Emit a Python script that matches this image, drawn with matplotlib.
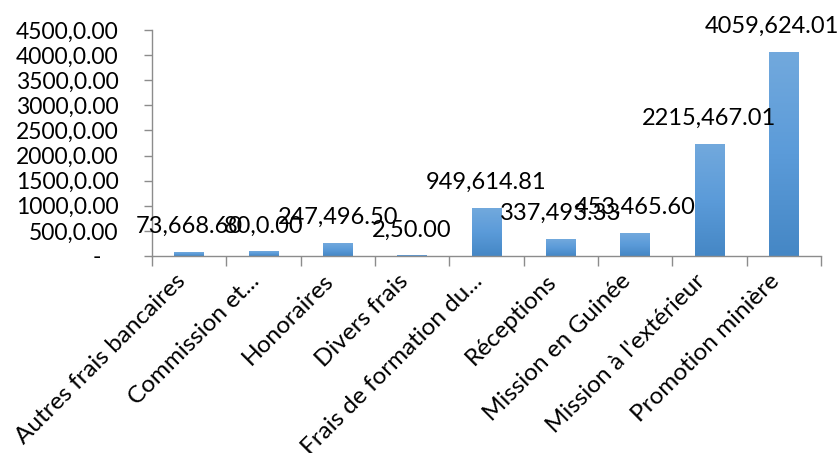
import matplotlib
matplotlib.use("Agg")
import matplotlib.pyplot as plt
import numpy as np
from matplotlib.colors import to_rgb

# données
categories = ["Autres frais bancaires", "Commission et...", "Honoraires",
              "Divers frais", "Frais de formation du...", "Réceptions",
              "Mission en Guinée", "Mission à l'extérieur", "Promotion minière"]
values = [73668.60, 80000.00, 247496.50, 2500.00, 949614.81,
          337493.33, 453465.60, 2215467.01, 4059624.01]
value_labels = ["73,668.60", "80,0.00", "247,496.50", "2,50.00", "949,614.81",
                "337,493.33", "453,465.60", "2215,467.01", "4059,624.01"]
y_ticks = [0, 500000, 1000000, 1500000, 2000000, 2500000,
           3000000, 3500000, 4000000, 4500000]
y_tick_labels = ["-   ", "500,0.00", "1000,0.00", "1500,0.00", "2000,0.00",
                 "2500,0.00", "3000,0.00", "3500,0.00", "4000,0.00", "4500,0.00"]

plt.rcParams['font.family'] = ['Lato', 'DejaVu Sans']
axis_grey = '#8c8c8c'

fig = plt.figure(figsize=(8.39, 4.53), dpi=100)
ax = fig.add_axes([0.1812, 0.4349, 0.7973, 0.4989])

# gradient bleu façon Excel (haut clair -> bas foncé)
top_c, mid_c, bot_c = to_rgb('#72a9dd'), to_rgb('#5b9bd9'), to_rgb('#4587c5')
t = np.linspace(0, 1, 200)[:, None]
grad = np.where(t < 0.5,
                np.array(top_c) + (np.array(mid_c) - np.array(top_c)) * (t / 0.5),
                np.array(mid_c) + (np.array(bot_c) - np.array(mid_c)) * ((t - 0.5) / 0.5))
grad = grad[:, None, :]

width = 0.4
x = np.arange(len(categories))
for xi, v, lab in zip(x, values, value_labels):
    ax.imshow(grad, extent=(xi - width / 2, xi + width / 2, 0, v),
              aspect='auto', zorder=2, interpolation='bilinear')
    dx = -12 if xi == len(categories) - 1 else 0
    ax.annotate(lab, (xi, v), xytext=(dx, 26), textcoords='offset pixels',
                ha='center', va='center', fontsize=17, color='black', zorder=3)

ax.set_xlim(-0.5, len(categories) - 0.5)
ax.set_ylim(0, 4500000)

ax.set_yticks(y_ticks)
ax.set_yticklabels(y_tick_labels, fontsize=16.5)
ax.tick_params(axis='y', length=6, width=1, color=axis_grey, pad=18)

ax.set_xticks(np.arange(len(categories) + 1) - 0.5)
ax.set_xticklabels([])
ax.set_xticks(x, minor=True)
ax.set_xticklabels(categories, minor=True, rotation=45, ha='right', va='bottom',
                   rotation_mode='anchor', fontsize=17.5)
ax.tick_params(axis='x', which='major', length=7, width=1, color=axis_grey)
ax.tick_params(axis='x', which='minor', length=0, pad=21)

for s in ['top', 'right']:
    ax.spines[s].set_visible(False)
for s in ['left', 'bottom']:
    ax.spines[s].set_color(axis_grey)
    ax.spines[s].set_linewidth(1)

fig.savefig('out.png', dpi=100, facecolor='white')
